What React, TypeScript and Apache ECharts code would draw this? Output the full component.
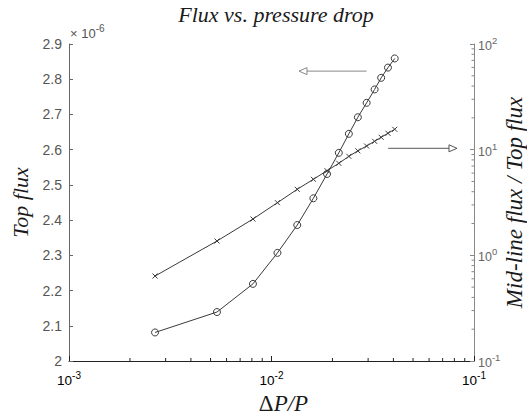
import React, { useEffect, useRef } from 'react';
import * as echarts from 'echarts';

// ΔP/P values (x)
const pressureRatio = [0.00266, 0.00538, 0.0081, 0.0107, 0.0134, 0.0161, 0.0188, 0.0215, 0.0241, 0.0267, 0.0295, 0.0323, 0.0348, 0.0376, 0.0406];
// Top flux (×10^-6), left axis
const topFlux = [2.081, 2.139, 2.219, 2.307, 2.386, 2.462, 2.531, 2.591, 2.645, 2.692, 2.733, 2.771, 2.804, 2.833, 2.859];
// Mid-line flux / Top flux, right axis (log)
const fluxRatio = [0.637, 1.366, 2.207, 3.15, 4.216, 5.243, 6.32, 7.43, 8.65, 9.75, 10.83, 12.0, 13.09, 14.29, 15.59];

const xDecades = [-3, -2];
const rightDecades = [-1, 0, 1];
const minorMultipliers = [2, 3, 4, 5, 6, 7, 8, 9];
const rightAxisName = 'Mid-line flux / Top flux';

const SANS = '"Liberation Sans", Arial, Helvetica, sans-serif';
const SERIF = '"Liberation Serif", "Times New Roman", serif';
const LINE = '#3a3a3a';

const supFormatter = (v: number) => {
  const e = Math.round(Math.log10(v));
  return `{b|10}{s|${e}}`;
};

export default function App() {
  const ref = useRef<HTMLDivElement>(null);
  useEffect(() => {
    const chart = echarts.init(ref.current!, null, { renderer: 'svg' });
    const option: any = {
      animation: false,
      backgroundColor: '#fff',
      title: {
        text: 'Flux vs. pressure drop',
        left: 271,
        textAlign: 'center',
        top: -2,
        textStyle: { fontFamily: SERIF, fontStyle: 'italic', fontWeight: 'normal', fontSize: 22, color: '#1a1a1a' },
      },
      grid: { left: 69, right: 53, top: 44, bottom: 56, containLabel: false, outerBoundsMode: 'none' },
      xAxis: {
        type: 'log',
        logBase: 10,
        min: 0.001,
        max: 0.1,
        name: '{d|Δ}{p|P/P}',
        nameLocation: 'middle',
        nameGap: 31,
        nameTextStyle: {
          padding: [0, 0, 0, 24],
          rich: {
            d: { fontFamily: SERIF, fontSize: 23, color: '#1a1a1a' },
            p: { fontFamily: SERIF, fontStyle: 'italic', fontSize: 23, color: '#1a1a1a' },
          },
        },
        axisLine: { show: true, lineStyle: { color: '#222', width: 1 } },
        axisTick: { show: true, inside: true, length: 5, lineStyle: { color: '#222' } },
        splitLine: { show: false },
        axisLabel: {
          margin: 9,
          formatter: supFormatter,
          rich: {
            b: { fontFamily: SANS, fontSize: 13.5, color: '#000', verticalAlign: 'bottom' },
            s: { fontFamily: SANS, fontSize: 10, color: '#000', verticalAlign: 'bottom', padding: [0, 0, 7, 0] },
          },
        },
      },
      yAxis: [
        {
          type: 'value',
          min: 2,
          max: 2.9,
          interval: 0.1,
          position: 'left',
          name: 'Top flux',
          nameLocation: 'middle',
          nameGap: 33,
          nameTextStyle: { fontFamily: SERIF, fontStyle: 'italic', fontSize: 22, color: '#1a1a1a' },
          axisLine: { show: true, lineStyle: { color: '#666' } },
          axisTick: { show: true, inside: true, length: 4, lineStyle: { color: '#666' } },
          splitLine: { show: false },
          axisLabel: {
            fontFamily: SANS,
            fontSize: 14,
            color: '#555',
            margin: 7,
            formatter: (v: number) => String(Math.round(v * 10) / 10),
          },
        },
        {
          type: 'log',
          logBase: 10,
          min: 0.1,
          max: 100,
          position: 'right',
          axisLine: { show: true, lineStyle: { color: '#888' } },
          axisTick: { show: true, inside: true, length: 4, lineStyle: { color: '#888' } },
          splitLine: { show: false },
          axisLabel: {
            margin: 4,
            formatter: supFormatter,
            rich: {
              b: { fontFamily: SANS, fontSize: 12.5, color: '#666', verticalAlign: 'bottom' },
              s: { fontFamily: SANS, fontSize: 9.5, color: '#666', verticalAlign: 'bottom', padding: [0, 0, 7, 0] },
            },
          },
        },
      ],
      series: [
        {
          type: 'line',
          yAxisIndex: 0,
          data: pressureRatio.map((x, i) => [x, topFlux[i]]),
          lineStyle: { color: LINE, width: 1 },
          symbol: 'circle',
          symbolSize: 7,
          itemStyle: { color: 'transparent', borderColor: LINE, borderWidth: 1 },
          z: 3,
        },
        {
          type: 'line',
          yAxisIndex: 1,
          data: pressureRatio.map((x, i) => [x, fluxRatio[i]]),
          lineStyle: { color: LINE, width: 1 },
          symbol: 'path://M0,0L10,10M10,0L0,10',
          symbolSize: 5,
          itemStyle: { color: 'transparent', borderColor: LINE, borderWidth: 1 },
          z: 3,
        },
      ],
    };
    chart.setOption(option);

    const px = (v: number) => chart.convertToPixel({ xAxisIndex: 0 }, v) as number;
    const pyL = (v: number) => chart.convertToPixel({ yAxisIndex: 0 }, v) as number;
    const pyR = (v: number) => chart.convertToPixel({ yAxisIndex: 1 }, v) as number;
    const bottom = pyL(2);
    const top = pyL(2.9);
    const left = px(0.001);
    const right = px(0.1);

    const g: any[] = [];
    xDecades.forEach((e) => {
      minorMultipliers.forEach((m) => {
        const x = px(m * Math.pow(10, e));
        g.push({ type: 'line', shape: { x1: x, y1: bottom, x2: x, y2: bottom - 3 }, style: { stroke: '#222', lineWidth: 1 }, silent: true });
      });
    });
    rightDecades.forEach((e) => {
      minorMultipliers.forEach((m) => {
        const y = pyR(m * Math.pow(10, e));
        g.push({ type: 'line', shape: { x1: right, y1: y, x2: right - 2.5, y2: y }, style: { stroke: '#888', lineWidth: 1 }, silent: true });
      });
    });
    g.push({
      type: 'text',
      x: right + 40,
      y: (top + bottom) / 2,
      rotation: Math.PI / 2,
      style: {
        text: rightAxisName,
        align: 'center',
        verticalAlign: 'middle',
        fontFamily: SERIF,
        fontStyle: 'italic',
        fontSize: 23,
        fill: '#1a1a1a',
      },
      silent: true,
    });
    g.push({
      type: 'text',
      x: left + 1,
      y: top - 21,
      style: {
        text: '{a|× 10}{s|-6}',
        rich: {
          a: { fontFamily: SANS, fontSize: 13, fill: '#555', verticalAlign: 'bottom' },
          s: { fontFamily: SANS, fontSize: 10, fill: '#555', verticalAlign: 'bottom', padding: [0, 0, 7, 0] },
        },
      },
      silent: true,
    });
    const arrow = (x1: number, x2: number, y: number, color: string) => {
      const dir = x2 > x1 ? 1 : -1;
      const headLen = 8;
      const half = 3.5;
      const base = x2 - dir * headLen;
      g.push({ type: 'line', shape: { x1, y1: y, x2: base, y2: y }, style: { stroke: color, lineWidth: 1 }, silent: true });
      g.push({
        type: 'polygon',
        shape: { points: [[x2, y], [base, y - half], [base, y + half]] },
        style: { fill: '#fff', stroke: color, lineWidth: 1 },
        silent: true,
      });
    };
    arrow(px(0.0295), px(0.01367), pyL(2.823), '#888');
    arrow(px(0.0377), px(0.0824), pyR(10.3), '#555');

    chart.setOption({ graphic: g });
    return () => chart.dispose();
  }, []);
  return <div ref={ref} style={{ position: 'absolute', left: 0, top: 0, width: 527, height: 417 }} />;
}
